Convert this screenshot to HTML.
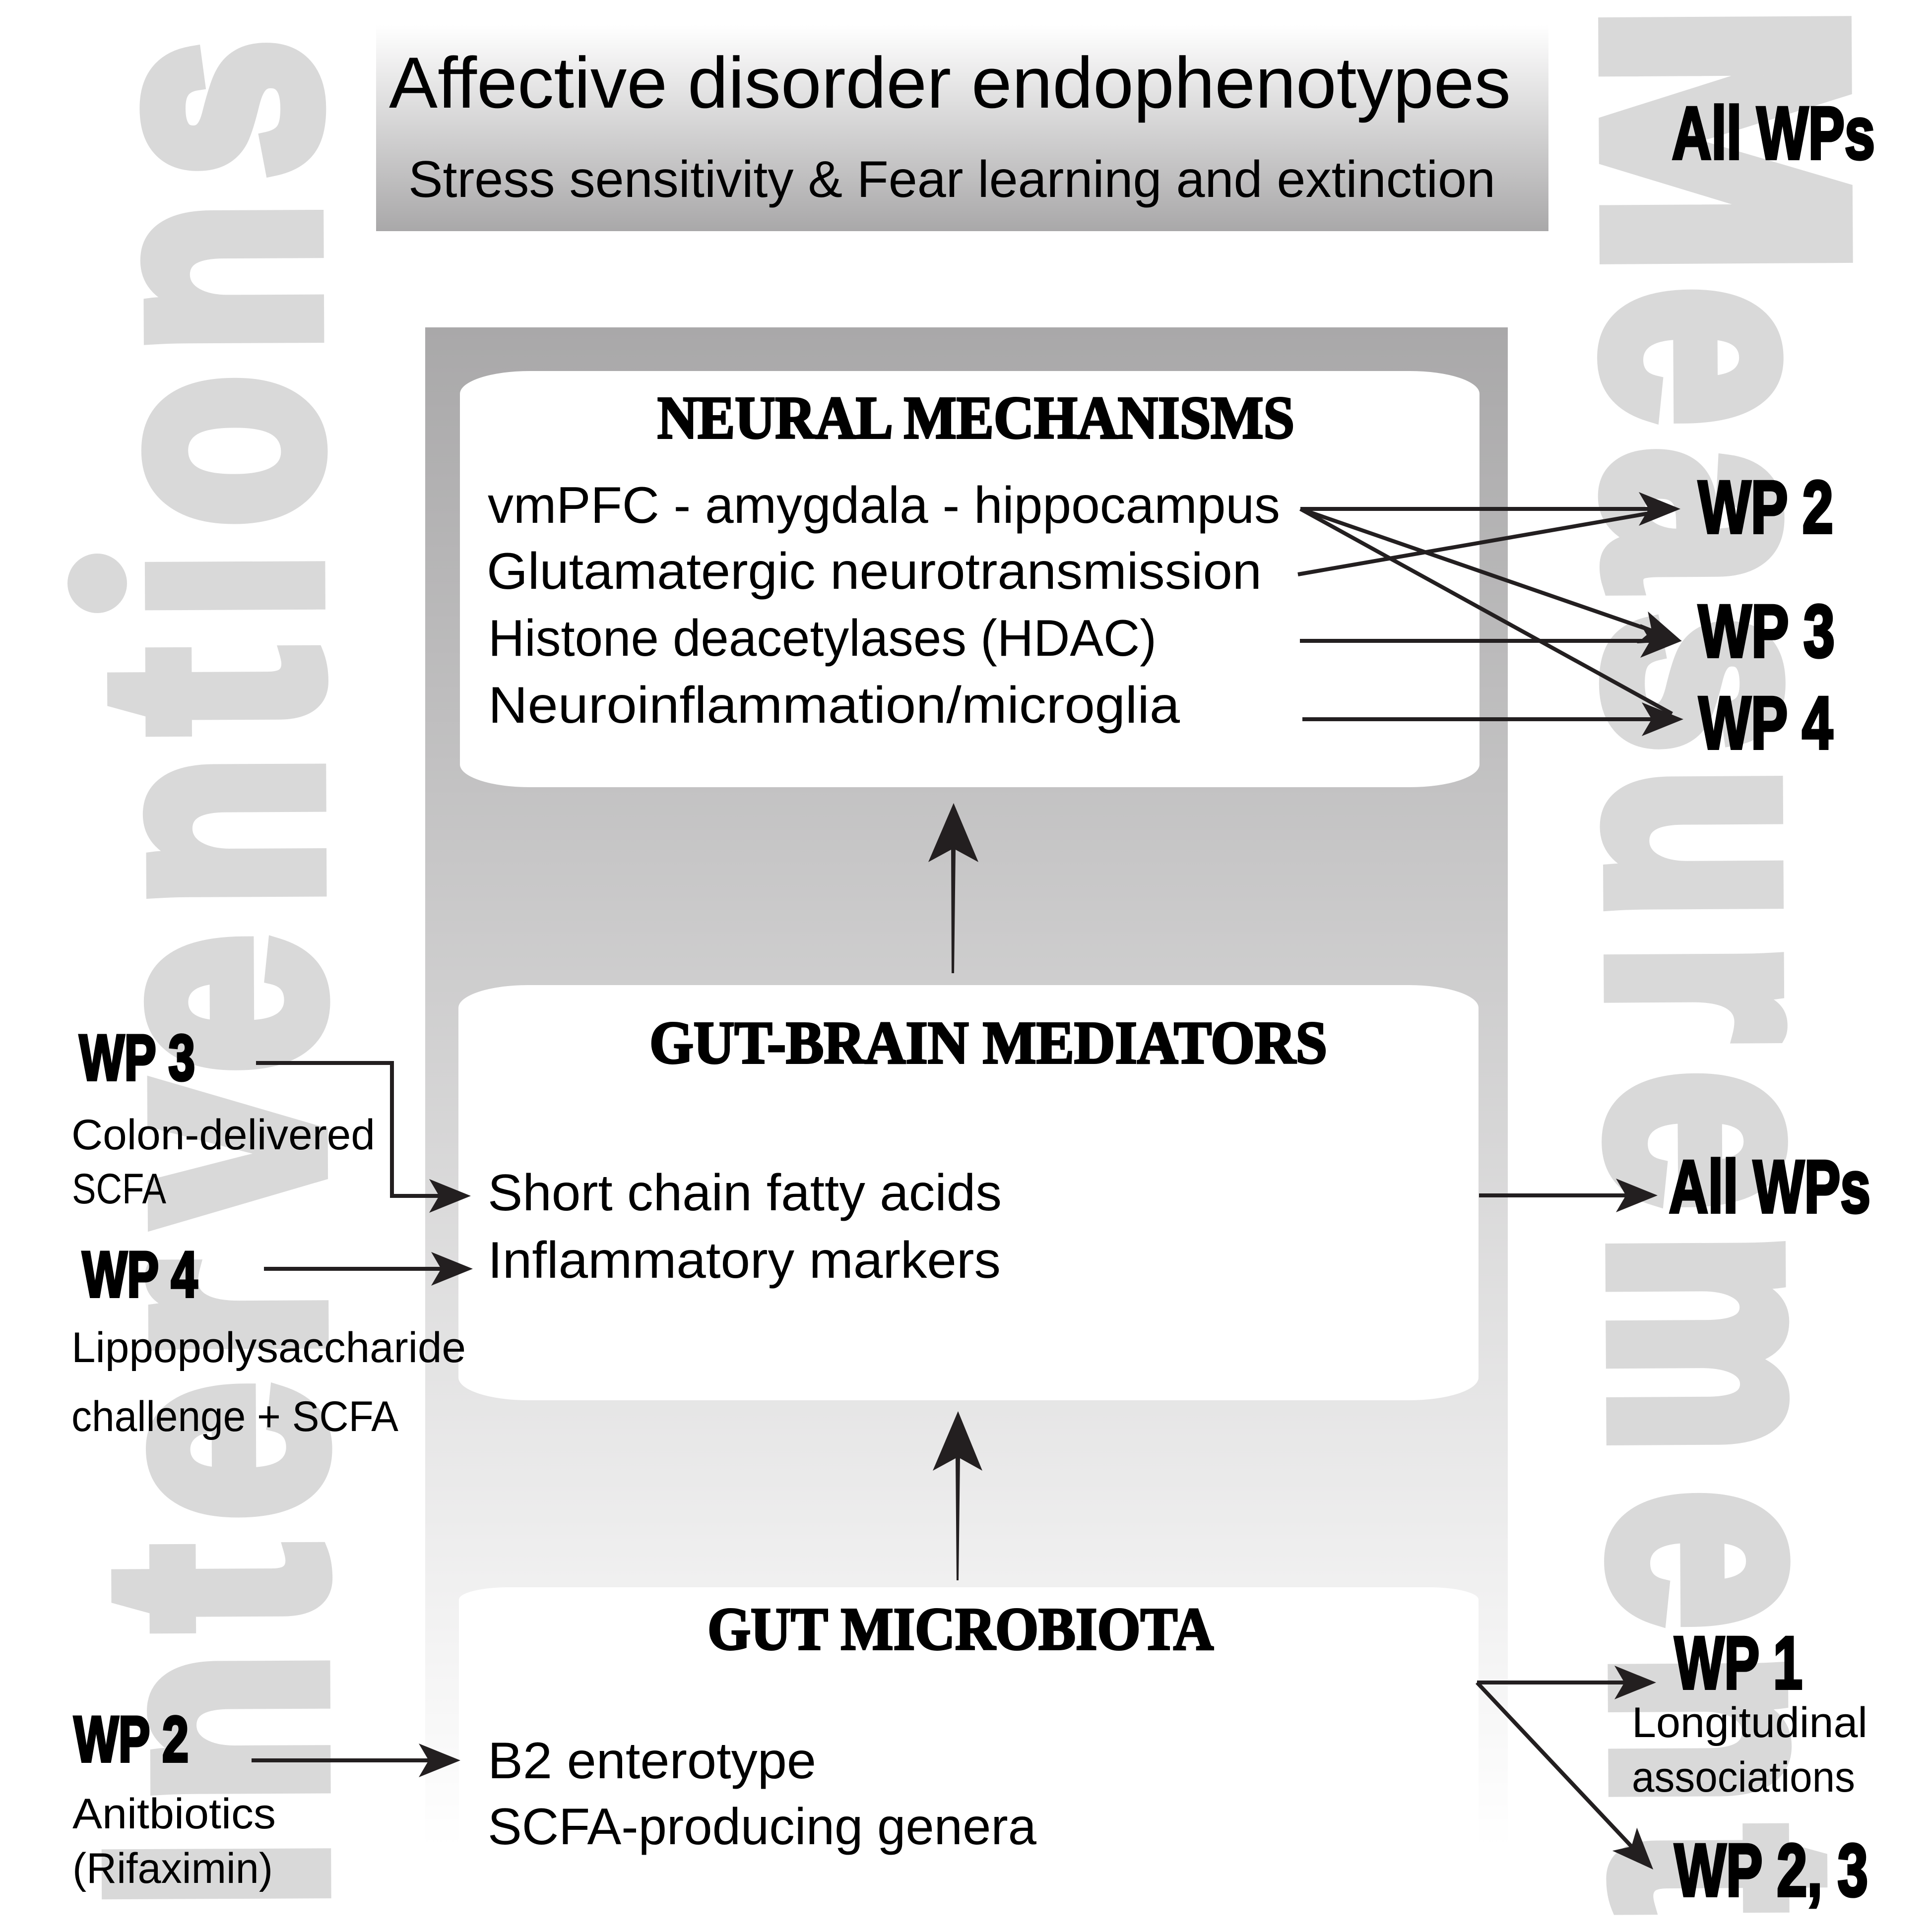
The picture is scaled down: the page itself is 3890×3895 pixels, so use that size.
<!DOCTYPE html>
<html><head><meta charset="utf-8"><style>html,body{margin:0;padding:0;background:#fff}svg{display:block}
.b{font-family:"Liberation Sans",sans-serif;fill:#000}
.w{font-family:"Liberation Sans",sans-serif;font-weight:700;fill:#000;stroke:#000;stroke-width:6}
.s{font-family:"Liberation Serif",serif;font-weight:700;fill:#000;stroke:#000;stroke-width:4;font-size:122px}
.g{font-family:"Liberation Sans",sans-serif;font-weight:700;font-size:620px;fill:#d9d9d9;stroke:#d9d9d9;stroke-width:36;stroke-linejoin:miter}
.l{stroke:#231f20;stroke-width:8;fill:none}
</style></head><body>
<svg xmlns="http://www.w3.org/2000/svg" width="3890" height="3895" viewBox="0 0 3890 3895">
<defs>
<linearGradient id="t" x1="0" y1="0" x2="0" y2="1"><stop offset="0" stop-color="#fff"/><stop offset="1" stop-color="#a9a8a9"/></linearGradient>
<linearGradient id="m" x1="0" y1="0" x2="0" y2="1"><stop offset="0" stop-color="#a9a8a9"/><stop offset="1" stop-color="#fff"/></linearGradient>
<marker id="h" markerUnits="userSpaceOnUse" markerWidth="120" markerHeight="80" refX="40" refY="40" orient="auto" viewBox="0 0 120 80"><path d="M0 6L84 40L0 74L20 40Z" fill="#231f20"/></marker>
</defs>
<rect width="3890" height="3895" fill="#fff"/>

<text class="g" transform="translate(650,3900) rotate(-90.26) scale(.805,1)" x="67 328 766 1039 1442 1785 2159 2574 3012 3293 3527 3961 4401" y="0">Interventions</text>
<rect x="100" y="1095" width="183" height="160" fill="#fff"/>
<circle cx="196" cy="1176" r="60" fill="#d9d9d9"/>
<text class="g" style="font-size:690px" transform="translate(3239,8) rotate(89.67) scale(.96,1)" x="0" y="0">M</text>
<text class="g" transform="translate(3239,0) rotate(89.67) scale(.805,1)" x="720 1125 1540 1925 2365 2683 3089 3734 4142 4579" y="0">easurement</text>

<rect x="758" y="50" width="2363" height="416" fill="url(#t)"/>
<rect x="857" y="660" width="2182" height="3065" fill="url(#m)"/>
<rect x="927" y="748" width="2055" height="839" rx="140" ry="46" fill="#fff"/>
<rect x="924" y="1986" width="2056" height="837" rx="140" ry="46" fill="#fff"/>
<rect x="925" y="3200" width="2055" height="560" rx="100" ry="25" fill="#fff"/>

<text class="b" x="784" y="217" font-size="146" textLength="2261" lengthAdjust="spacingAndGlyphs">Affective disorder endophenotypes</text>
<text class="b" x="823" y="397" font-size="104" textLength="2191" lengthAdjust="spacingAndGlyphs">Stress sensitivity &amp; Fear learning and extinction</text>

<text class="s" x="1325" y="883" textLength="1284" lengthAdjust="spacingAndGlyphs">NEURAL MECHANISMS</text>
<text class="b" x="983" y="1054" font-size="104" textLength="1597" lengthAdjust="spacingAndGlyphs">vmPFC - amygdala - hippocampus</text>
<text class="b" x="981" y="1187" font-size="104" textLength="1562" lengthAdjust="spacingAndGlyphs">Glutamatergic neurotransmission</text>
<text class="b" x="984" y="1322" font-size="104" textLength="1347" lengthAdjust="spacingAndGlyphs">Histone deacetylases (HDAC)</text>
<text class="b" x="984" y="1457" font-size="104" textLength="1394" lengthAdjust="spacingAndGlyphs">Neuroinflammation/microglia</text>

<text class="s" x="1309" y="2143" textLength="1366" lengthAdjust="spacingAndGlyphs">GUT-BRAIN MEDIATORS</text>
<text class="b" x="983" y="2440" font-size="104" textLength="1036" lengthAdjust="spacingAndGlyphs">Short chain fatty acids</text>
<text class="b" x="983" y="2576" font-size="104" textLength="1034" lengthAdjust="spacingAndGlyphs">Inflammatory markers</text>

<text class="s" x="1426" y="3325" textLength="1020" lengthAdjust="spacingAndGlyphs">GUT MICROBIOTA</text>
<text class="b" x="983" y="3585" font-size="104" textLength="662" lengthAdjust="spacingAndGlyphs">B2 enterotype</text>
<text class="b" x="983" y="3718" font-size="104" textLength="1106" lengthAdjust="spacingAndGlyphs">SCFA-producing genera</text>

<text class="w" x="160" y="2177" font-size="130" textLength="233" lengthAdjust="spacingAndGlyphs">WP 3</text>
<text class="b" x="144" y="2317" font-size="86" textLength="612" lengthAdjust="spacingAndGlyphs">Colon-delivered</text>
<text class="b" x="145" y="2426" font-size="86" textLength="190" lengthAdjust="spacingAndGlyphs">SCFA</text>
<text class="w" x="166" y="2614" font-size="130" textLength="232" lengthAdjust="spacingAndGlyphs">WP 4</text>
<text class="b" x="144" y="2746" font-size="86" textLength="795" lengthAdjust="spacingAndGlyphs">Lippopolysaccharide</text>
<text class="b" x="144" y="2885" font-size="86" textLength="659" lengthAdjust="spacingAndGlyphs">challenge + SCFA</text>
<text class="w" x="149" y="3551" font-size="130" textLength="231" lengthAdjust="spacingAndGlyphs">WP 2</text>
<text class="b" x="146" y="3686" font-size="86" textLength="410" lengthAdjust="spacingAndGlyphs">Anitbiotics</text>
<text class="b" x="146" y="3796" font-size="86" textLength="404" lengthAdjust="spacingAndGlyphs">(Rifaximin)</text>

<text class="w" x="3370" y="320" font-size="150" textLength="409" lengthAdjust="spacingAndGlyphs">All WPs</text>
<text class="w" x="3423" y="1074" font-size="150" textLength="272" lengthAdjust="spacingAndGlyphs">WP 2</text>
<text class="w" x="3423" y="1324" font-size="150" textLength="275" lengthAdjust="spacingAndGlyphs">WP 3</text>
<text class="w" x="3424" y="1509" font-size="150" textLength="270" lengthAdjust="spacingAndGlyphs">WP 4</text>
<text class="w" x="3364" y="2444" font-size="150" textLength="406" lengthAdjust="spacingAndGlyphs">All WPs</text>
<text class="w" x="3375" y="3404" font-size="150" textLength="258" lengthAdjust="spacingAndGlyphs">WP 1</text>
<text class="b" x="3289" y="3502" font-size="86" textLength="475" lengthAdjust="spacingAndGlyphs">Longitudinal</text>
<text class="b" x="3289" y="3612" font-size="86" textLength="450" lengthAdjust="spacingAndGlyphs">associations</text>
<text class="w" x="3375" y="3822" font-size="150" textLength="390" lengthAdjust="spacingAndGlyphs">WP 2, 3</text>

<path class="l" d="M2621 1026H3343" marker-end="url(#h)"/>
<path class="l" d="M2616 1158L3340 1032"/>
<path class="l" d="M2621 1026L3348 1278" marker-end="url(#h)"/>
<path class="l" d="M2620 1292H3346" marker-end="url(#h)"/>
<path class="l" d="M2621 1026L3370 1439"/>
<path class="l" d="M2625 1450H3349" marker-end="url(#h)"/>

<path d="M1922 1619L1972 1738L1926 1713L1923 1962H1918L1917 1713L1871 1738Z" fill="#231f20"/>
<path d="M1931 2845L1980 2965L1935 2940L1932 3186H1928L1926 2940L1880 2965Z" fill="#231f20"/>

<path class="l" d="M516 2143H790V2411H905" marker-end="url(#h)"/>
<path class="l" d="M532 2558H909" marker-end="url(#h)"/>
<path class="l" d="M507 3549H884" marker-end="url(#h)"/>
<path class="l" d="M2981 2410H3297" marker-end="url(#h)"/>
<path class="l" d="M2977 3392H3294" marker-end="url(#h)"/>
<path class="l" d="M2977 3392L3302 3737" marker-end="url(#h)"/>
</svg>
</body></html>
